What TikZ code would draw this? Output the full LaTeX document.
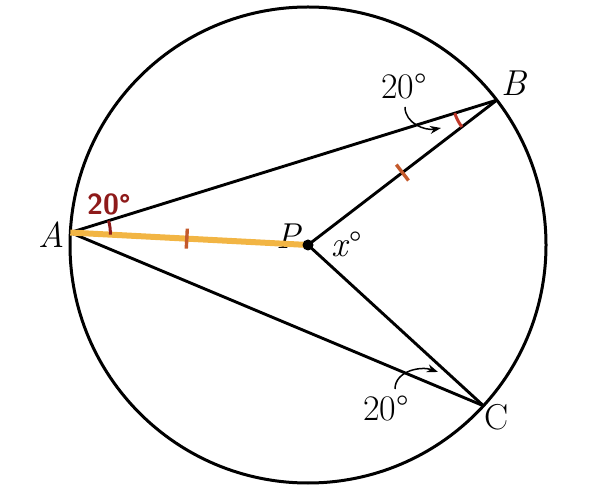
\documentclass[tikz,border=0pt]{standalone}
\usetikzlibrary{calc,angles,arrows.meta}
\definecolor{orangeline}{HTML}{F2B544}
\definecolor{tickred}{HTML}{C45A2C}
\definecolor{darkred}{HTML}{8E1A1A}
\definecolor{arcred}{HTML}{C0392B}
\begin{document}
\begin{tikzpicture}[x=1pt,y=1pt,
  line/.style={line width=2.9pt,black},
  lbl/.style={font=\fontsize{36}{40}\selectfont,inner sep=0pt},
  tickmark/.style={line width=3.4pt,tickred},
  curvearrow/.style={line width=1.5pt,-{Stealth[length=11pt,width=8pt]}}]
\useasboundingbox (0,0) rectangle (613,501);
\coordinate (P) at (308,256);
\coordinate (A) at ($(P)+(177:238)$);
\coordinate (B) at ($(P)+(37.5:238)$);
\coordinate (C) at ($(P)+(-42.5:238)$);
\draw[line width=3pt] (P) circle (238);
\draw[line] (A) -- (B);
\draw[line] (A) -- (C);
\draw[line] (P) -- (B);
\draw[line] (P) -- (C);
\node[lbl] (Plbl) at (289,265) {\textit{P}};
\draw[line width=6pt,orangeline] (A) -- (P);
\fill[black] (P) circle (5.5);
% ticks
\coordinate (M1) at ($(A)!0.49!(P)$);
\coordinate (M2) at ($(P)!0.5!(B)$);
\draw[tickmark] ($(M1)!10pt!90:(P)$) -- ($(M1)!10pt!-90:(P)$);
\draw[tickmark] ($(M2)!10pt!90:(B)$) -- ($(M2)!10pt!-90:(B)$);
% angle arcs
\pic[draw=darkred,line width=3pt,angle radius=40pt] {angle=P--A--B};
\pic[draw=arcred,line width=3pt,angle radius=44pt] {angle=A--B--P};
% labels
\node[lbl] (Albl) at (52,266) {\textit{A}};
\node[lbl] (Blbl) at (514,418) {\textit{B}};
\node[lbl] (Clbl) at (497,84) {C};
\node[lbl] (xlbl) at (347,257) {\textit{x}°};
\node[lbl] (Bang) at (404,415) {20°};
\node[lbl] (Cang) at (386,93) {20°};
\node[inner sep=0pt,font=\fontsize{29}{34}\selectfont\sffamily\bfseries,text=darkred] (Aang) at (109,297) {20°};
% curved arrows
\coordinate (b1) at (405,394);
\coordinate (b2) at (441,373);
\draw[curvearrow] (b1) to[out=-90,in=190] (b2);
\coordinate (c1) at (395,112);
\coordinate (c2) at (438,129);
\draw[curvearrow] (c1) to[out=90,in=160] (c2);
\end{tikzpicture}
\end{document}
